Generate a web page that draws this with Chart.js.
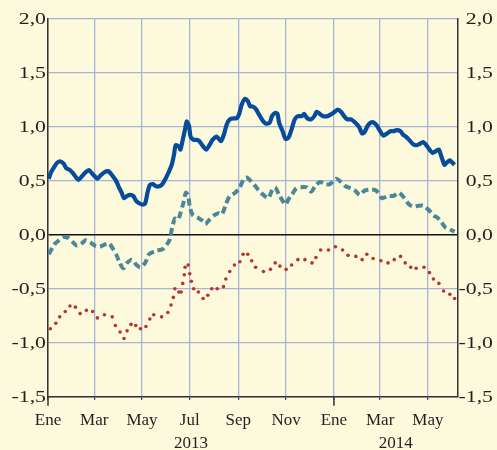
<!DOCTYPE html>
<html>
<head>
<meta charset="utf-8">
<script src="https://cdn.jsdelivr.net/npm/chart.js@4.4.1/dist/chart.umd.min.js"></script>
<style>
  html, body { margin: 0; padding: 0; background: #fdf9dc; }
  #wrap { width: 497px; height: 450px; }
</style>
</head>
<body>
<div id="wrap"><canvas id="chart" width="497" height="450"></canvas></div>
<script>
/* ── Data (x = days since 1 Jan 2013) ── */
const monthDays = [0, 59, 120, 181, 243, 304, 365, 424, 485];
const monthLabels = ["Ene", "Mar", "May", "Jul", "Sep", "Nov", "Ene", "Mar", "May"];
const yearLabels = ["2013", "2014"];
const yearStart = [0, 365];
const yearEnd = [365, 523];
const yTicks = [-1.5, -1.0, -0.5, 0, 0.5, 1.0, 1.5, 2.0];

const blueDays = [1,4,8,12,16,20,23,28,32,36,39,43,48,52,56,60,63,67,72,77,80,83,87,90,94,97,101,105,109,112,117,121,124,127,130,134,138,142,146,150,154,158,161,163,167,169,172,175,177,180,182,186,190,193,198,202,206,210,215,218,221,225,228,232,238,241,244,247,251,255,258,261,265,269,273,278,283,286,290,293,295,300,303,307,311,315,319,324,327,331,336,340,343,347,351,357,362,366,370,374,378,382,387,392,397,401,404,408,412,416,420,424,428,433,437,441,445,450,453,457,461,466,470,474,479,483,487,491,496,499,502,506,509,513,516,519];
const blueVals = [0.52,0.58,0.63,0.67,0.68,0.66,0.62,0.60,0.57,0.53,0.51,0.54,0.58,0.60,0.57,0.54,0.52,0.55,0.58,0.59,0.57,0.54,0.50,0.45,0.39,0.34,0.36,0.37,0.36,0.32,0.29,0.28,0.29,0.39,0.46,0.47,0.45,0.45,0.47,0.52,0.58,0.65,0.75,0.83,0.82,0.79,0.88,0.98,1.05,1.01,0.91,0.88,0.88,0.87,0.82,0.79,0.83,0.88,0.91,0.89,0.87,0.94,1.02,1.07,1.08,1.08,1.12,1.20,1.26,1.24,1.19,1.19,1.17,1.12,1.07,1.03,1.04,1.10,1.13,1.12,1.04,0.95,0.89,0.90,0.98,1.07,1.10,1.10,1.12,1.08,1.07,1.10,1.14,1.12,1.10,1.10,1.12,1.14,1.16,1.14,1.10,1.07,1.07,1.04,1.00,0.94,0.95,1.01,1.04,1.04,1.01,0.96,0.92,0.94,0.96,0.96,0.97,0.96,0.93,0.91,0.88,0.84,0.83,0.84,0.86,0.83,0.79,0.76,0.78,0.79,0.73,0.65,0.67,0.69,0.67,0.65];

const tealDays = [1,8,14,20,26,32,37,43,48,54,60,66,72,78,83,87,91,96,101,107,113,118,124,129,137,147,155,158,162,166,169,173,176,179,181,185,191,197,201,206,212,218,222,227,232,239,245,250,254,260,265,269,275,281,286,290,295,300,303,307,311,317,323,330,336,341,347,354,360,368,374,380,387,392,398,404,412,419,426,434,441,448,455,461,467,473,479,486,492,497,502,507,513,519];
const tealVals = [-0.18,-0.09,-0.05,-0.02,-0.03,-0.07,-0.10,-0.08,-0.05,-0.07,-0.10,-0.11,-0.09,-0.08,-0.13,-0.18,-0.25,-0.31,-0.26,-0.23,-0.28,-0.30,-0.26,-0.18,-0.15,-0.13,-0.05,0.05,0.15,0.14,0.20,0.30,0.39,0.36,0.26,0.18,0.16,0.13,0.10,0.14,0.18,0.20,0.19,0.28,0.36,0.39,0.44,0.52,0.53,0.49,0.45,0.41,0.37,0.34,0.41,0.44,0.37,0.31,0.28,0.33,0.37,0.43,0.44,0.44,0.40,0.45,0.49,0.47,0.47,0.52,0.49,0.45,0.43,0.41,0.37,0.41,0.42,0.41,0.34,0.36,0.36,0.39,0.34,0.28,0.26,0.27,0.27,0.23,0.18,0.16,0.12,0.07,0.05,0.03];

const redDays = [3,10,15,22,28,35,41,49,57,63,72,82,86,92,97,101,106,112,118,125,130,135,145,153,157,160,162,167,170,172,174,175,179,181,183,186,192,198,204,209,216,224,227,232,238,245,249,255,260,265,275,284,290,296,304,311,319,328,337,342,348,358,367,376,383,393,401,407,415,425,434,442,450,456,463,470,480,487,492,499,505,513,519];
const redVals = [-0.87,-0.82,-0.76,-0.71,-0.66,-0.67,-0.73,-0.70,-0.71,-0.77,-0.74,-0.76,-0.84,-0.90,-0.96,-0.89,-0.83,-0.84,-0.87,-0.85,-0.78,-0.74,-0.76,-0.72,-0.65,-0.58,-0.50,-0.53,-0.53,-0.45,-0.37,-0.30,-0.28,-0.36,-0.43,-0.50,-0.53,-0.59,-0.56,-0.50,-0.50,-0.48,-0.41,-0.34,-0.28,-0.25,-0.18,-0.18,-0.24,-0.30,-0.34,-0.32,-0.26,-0.29,-0.32,-0.28,-0.23,-0.23,-0.26,-0.21,-0.14,-0.14,-0.11,-0.14,-0.19,-0.20,-0.23,-0.18,-0.22,-0.24,-0.26,-0.23,-0.20,-0.26,-0.30,-0.31,-0.30,-0.35,-0.41,-0.45,-0.52,-0.55,-0.59];

const toPoints = (xs, ys) => xs.map((x, i) => ({ x, y: ys[i] }));

/* ── Colours ── */
const BG = "#fdf9dc";
const GRID = "#a9b3d7";
const AXIS = "#333333";
const TEXT = "#231f20";
const FONT = '"Liberation Serif", "Times New Roman", serif';

/* ── Plugins ── */
const background = {
  id: "background",
  beforeDraw(chart) {
    const ctx = chart.ctx;
    ctx.save();
    ctx.fillStyle = BG;
    ctx.fillRect(0, 0, chart.width, chart.height);
    ctx.restore();
  },
};

const extras = {
  id: "extras",
  afterDraw(chart) {
    const ctx = chart.ctx;
    const xs = chart.scales.x;
    const area = chart.chartArea;
    ctx.save();

    // longer ticks at year boundaries
    ctx.strokeStyle = AXIS;
    ctx.lineWidth = 1.5;
    yearStart.forEach((d) => {
      const px = xs.getPixelForValue(d);
      ctx.beginPath();
      ctx.moveTo(px, area.bottom);
      ctx.lineTo(px, area.bottom + 9);
      ctx.stroke();
    });

    // year labels
    ctx.fillStyle = TEXT;
    ctx.font = "17px " + FONT;
    ctx.textAlign = "center";
    ctx.textBaseline = "alphabetic";
    yearLabels.forEach((lab, i) => {
      const px = xs.getPixelForValue((yearStart[i] + yearEnd[i]) / 2);
      ctx.fillText(lab, px, 447.5);
    });

    // y labels on both sides (wide set figures)
    ctx.font = "16px " + FONT;
    ctx.textAlign = "right";
    ctx.textBaseline = "middle";
    [["y", 46], ["y2", 493]].forEach(([id, ax]) => {
      const sc = chart.scales[id];
      sc.ticks.forEach((t) => {
        const py = sc.getPixelForValue(t.value);
        const txt = t.value.toFixed(1).replace(".", ",");
        ctx.save();
        ctx.translate(ax, py + 1);
        ctx.scale(1.36, 1);
        ctx.fillText(txt, 0, 0);
        ctx.restore();
      });
    });
    ctx.restore();
  },
};

/* ── Chart ── */
new Chart(document.getElementById("chart"), {
  type: "line",
  data: {
    datasets: [
      {
        label: "rojo",
        data: toPoints(redDays, redVals),
        showLine: false,
        pointRadius: 1.8,
        pointBackgroundColor: "#b3372f",
        pointBorderWidth: 0,
      },
      {
        label: "verde",
        data: toPoints(tealDays, tealVals),
        borderColor: "#4a8799",
        borderWidth: 4,
        borderDash: [7, 4],
        pointRadius: 0,
        tension: 0.25,
      },
      {
        label: "azul",
        data: toPoints(blueDays, blueVals),
        borderColor: "#064c9a",
        borderWidth: 4.2,
        pointRadius: 0,
        tension: 0.25,
      },
    ],
  },
  options: {
    responsive: false,
    animation: false,
    layout: { padding: { top: 19, left: 0, right: 0, bottom: 0 } },
    plugins: { legend: { display: false }, tooltip: { enabled: false } },
    scales: {
      x: {
        type: "linear",
        min: 0,
        max: 523,
        afterBuildTicks: (s) => { s.ticks = monthDays.map((v) => ({ value: v })); },
        afterFit: (s) => { s.height = 53.3; },
        ticks: {
          autoSkip: false,
          maxRotation: 0,
          padding: 11,
          color: TEXT,
          font: { family: FONT, size: 17 },
          callback: (v, i) => monthLabels[i],
        },
        grid: { color: GRID, lineWidth: 1.3, tickColor: AXIS, tickLength: 3 },
        border: { color: AXIS, width: 1.5 },
      },
      y: {
        position: "left",
        min: -1.5,
        max: 2.0,
        afterBuildTicks: (s) => { s.ticks = yTicks.map((v) => ({ value: v })); },
        afterFit: (s) => { s.width = 48; },
        ticks: { display: false },
        grid: {
          drawTicks: false,
          color: (c) => (c.tick && c.tick.value === 0 ? "#111" : GRID),
          lineWidth: (c) => (c.tick && c.tick.value === 0 ? 1.6 : 1.3),
        },
        border: { color: AXIS, width: 1.5 },
      },
      y2: {
        position: "right",
        min: -1.5,
        max: 2.0,
        afterBuildTicks: (s) => { s.ticks = yTicks.map((v) => ({ value: v })); },
        afterFit: (s) => { s.width = 39.3; },
        ticks: { display: false },
        grid: { drawOnChartArea: false, drawTicks: false },
        border: { color: AXIS, width: 1.5 },
      },
    },
  },
  plugins: [background, extras],
});
</script>
</body>
</html>
